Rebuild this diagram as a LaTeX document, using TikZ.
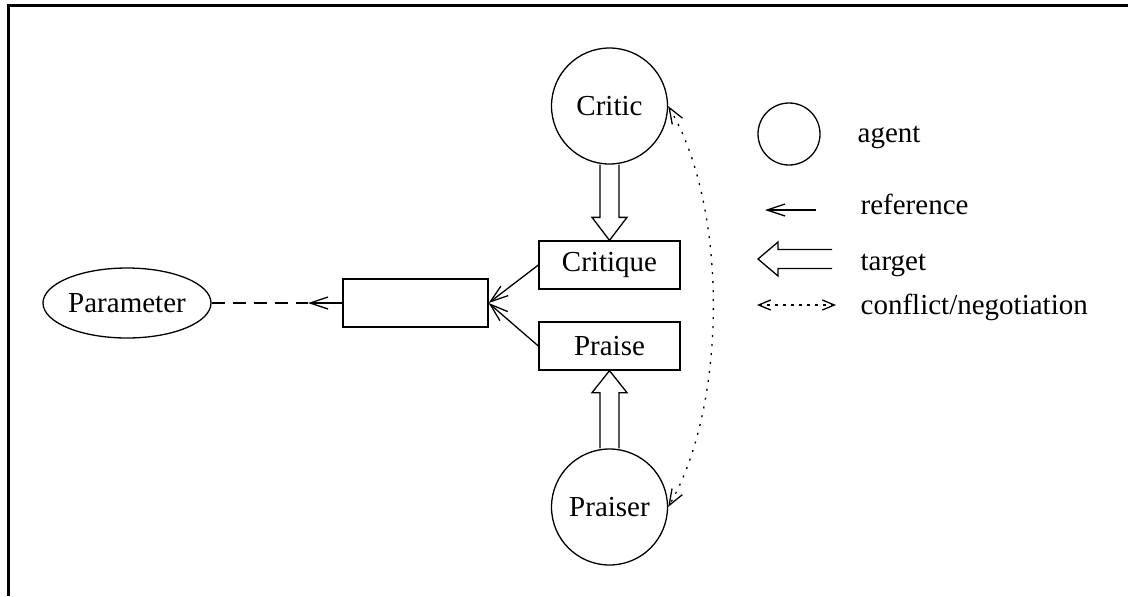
\documentclass[tikz,border=0pt]{standalone}
\usepackage{fontspec}
\setmainfont{Liberation Serif}
\usetikzlibrary{arrows.meta,calc,shapes.geometric}

\tikzset{
  agent/.style={circle, draw=black, text=black, minimum size=58pt, inner sep=0pt},
  msgbox/.style={rectangle, draw=black, text=black, minimum width=70.5pt, minimum height=24pt, inner sep=0pt},
  leglabel/.style={anchor=base west, inner sep=0pt},
  refarrow/.style={-{Straight Barb[length=9pt,width=6pt]}},
  conflict/.style={dash pattern=on 1pt off 3.5pt, {Straight Barb[length=8pt,width=6pt]}-{Straight Barb[length=8pt,width=6pt]}},
  legconflict/.style={dash pattern=on 1.5pt off 2.5pt, {Straight Barb[length=6pt,width=5pt]}-{Straight Barb[length=6pt,width=5pt]}},
  targetarrow/.style={line join=miter},
}

\begin{document}
\begin{tikzpicture}[x=0.5pt, y=-0.5pt, line width=0.65pt, font=\fontsize{14.5}{17}\selectfont]
			\useasboundingbox (0,0) rectangle (1128,596);
			% Frame along the top and left
			\draw[line width=1.5pt] (1128,5) -- (8,5) -- (8,596);

			% Define nodes with their coordinates
			\node[agent] (critic) at (609.5,106) {Critic};
			\node[agent] (praiser) at (609.5,507) {Praiser};
			\node[msgbox] (critique) at (609.5,265) {Critique};
			\node[msgbox] (praise) at (609.5,346) {Praise};
			\node[msgbox, minimum width=72.5pt] (item) at (415.5,303) {};
			\node[ellipse, draw=black, text=black, minimum width=84pt, minimum height=35pt, inner sep=0pt] (param) at (127,303) {Parameter};
			\coordinate (split) at (308,303);

			% Draw references
			\draw[refarrow] (critique.west) -- (item.east);
			\draw[refarrow] (praise.west) -- (item.east);
			\draw[refarrow] (item.west) -- (split);
			\draw[dash pattern=on 6.5pt off 4pt] (param.east) -- (split);

			% Draw targets
			\draw[targetarrow] ($(critic.south)+(-9.5,0)$) -- ($(critique.north)+(-9.5,-23)$) -- ++(-8,0) -- (critique.north) -- ++(17.5,-23) -- ++(-8,0) -- ($(critic.south)+(9.5,0)$);
			\draw[targetarrow] ($(praiser.north)+(-9.5,0)$) -- ($(praise.south)+(-9.5,22)$) -- ++(-8,0) -- (praise.south) -- ++(17.5,22) -- ++(-8,0) -- ($(praiser.north)+(9.5,0)$);

			% Draw conflict
			\draw[conflict] (critic.east) .. controls (728,205) and (728,405) .. (praiser.east);

			% Legend
			\node[agent, minimum size=31pt] (legagent) at (789,134) {};
			\node[leglabel] (agentlabel) at (857,142) {agent};
			\coordinate (refstart) at (816,210);
			\coordinate (refend) at (765,210);
			\draw[refarrow] (refstart) -- (refend);
			\node[leglabel] (reflabel) at (860,214) {reference};
			\coordinate (tgtstart) at (832,259);
			\draw[targetarrow] ($(tgtstart)+(0,-9.5)$) -- ++(-54,0) -- ++(0,-7.5) -- ($(tgtstart)+(-74,0)$) -- ++(20,17) -- ++(0,-7.5) -- ($(tgtstart)+(0,9.5)$);
			\node[leglabel] (tgtlabel) at (860,270) {target};
			\coordinate (cfstart) at (757,305);
			\coordinate (cfend) at (836,305);
			\draw[legconflict] (cfstart) -- (cfend);
			\node[leglabel] (cflabel) at (860,314) {conflict/negotiation};

		\end{tikzpicture}
\end{document}
